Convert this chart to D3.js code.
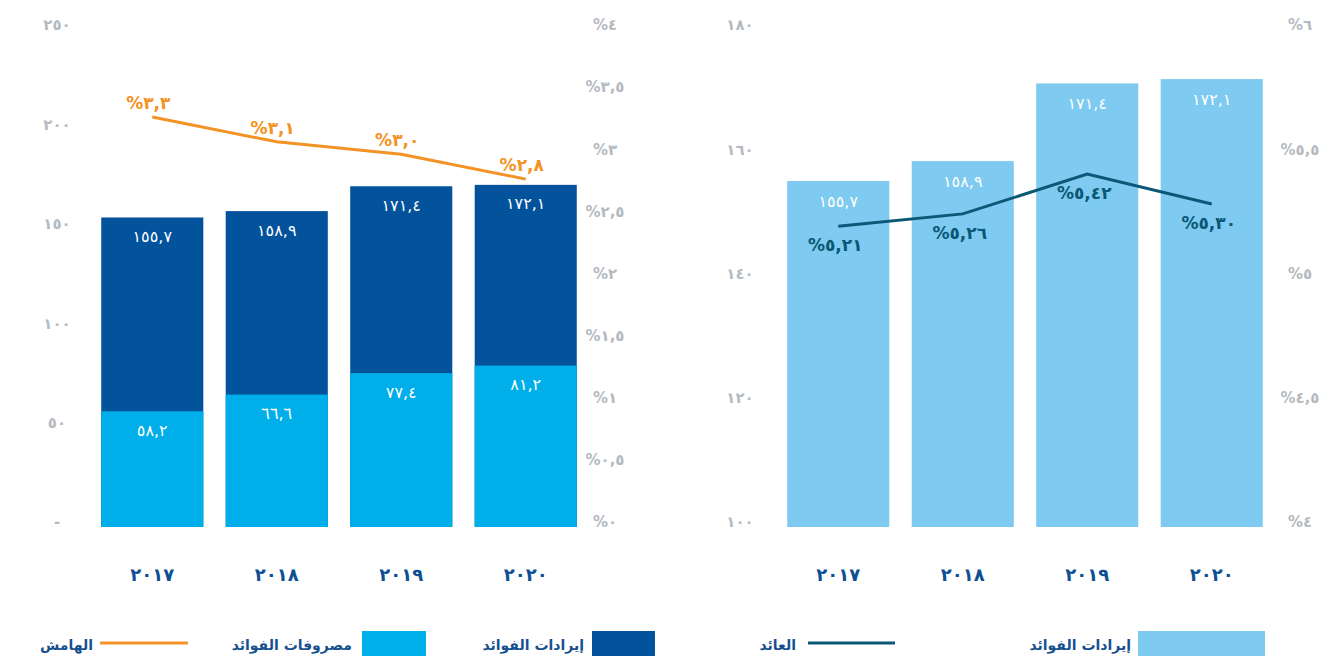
<!DOCTYPE html>
<html>
<head>
<meta charset="utf-8">
<script src="https://cdn.jsdelivr.net/npm/d3@7"></script>
<style>
  body { margin: 0; background: #ffffff; }
  svg text { font-family: "DejaVu Sans", sans-serif; }
</style>
</head>
<body>
<svg id="chart" width="1334" height="662"></svg>
<script>
// Years shown in both panels
const years = [2017, 2018, 2019, 2020];

// Left panel: interest income, interest expense (amounts) and margin (%)
const interestIncome = [155.7, 158.9, 171.4, 172.1];
const interestExpense = [58.2, 66.6, 77.4, 81.2];
const netMargin = [3.3, 3.1, 3.0, 2.8];

// Right panel: interest income (amounts) and yield (%)
const incomeRight = [155.7, 158.9, 171.4, 172.1];
const yieldRate = [5.21, 5.26, 5.42, 5.30];

// Axis ticks
const leftAmountTicks = [0, 50, 100, 150, 200, 250];
const leftPctTicks = [0, 0.5, 1, 1.5, 2, 2.5, 3, 3.5, 4];
const rightAmountTicks = [100, 120, 140, 160, 180];
const rightPctTicks = [4, 4.5, 5, 5.5, 6];

// Legend labels
const legendLeft = ["إيرادات الفوائد", "مصروفات الفوائد", "الهامش"];
const legendRight = ["إيرادات الفوائد", "العائد"];

const colors = {
  incomeDark: "#02529c",
  expense: "#00afe9",
  incomeLight: "#7ecaf0",
  margin: "#f39325",
  yield: "#0b5876",
  tick: "#b5bac1",
  year: "#0e4f94",
  legend: "#17508f"
};

const arabicDigits = "٠١٢٣٤٥٦٧٨٩";
function toArabic(str) {
  return String(str).replace(/\d/g, d => arabicDigits[+d]).replace(".", ",");
}
const fmtNum = (v, dec) => toArabic(v.toFixed(dec));
const fmtPct = (v, dec) => "%" + toArabic(dec === undefined ? String(v) : v.toFixed(dec));

const svg = d3.select("#chart");
const yTop = 30, yBottom = 527;

function drawAxis(g, scale, ticks, fmt, xPos) {
  const axis = d3.axisLeft(scale).tickValues(ticks).tickSize(0).tickPadding(0).tickFormat(fmt);
  const a = g.append("g").attr("transform", `translate(${xPos},-5)`).call(axis);
  a.select(".domain").remove();
  a.selectAll("text")
    .attr("text-anchor", "middle")
    .attr("x", 0)
    .attr("fill", colors.tick)
    .attr("font-size", 15)
    .attr("font-weight", "bold");
}

function drawYears(g, x) {
  const axis = d3.axisBottom(x).tickSize(0).tickPadding(0).tickFormat(d => toArabic(d));
  const a = g.append("g").attr("transform", "translate(0,575)").call(axis);
  a.select(".domain").remove();
  a.selectAll("text")
    .attr("dy", "0.35em")
    .attr("fill", colors.year)
    .attr("font-size", 18)
    .attr("font-weight", "bold");
}

// ---------- Left panel ----------
{
  const g = svg.append("g");
  const x = d3.scaleBand().domain(years).range([95, 583]).paddingInner(0.18).paddingOuter(0.05);
  const y = d3.scaleLinear().domain([0, 250]).range([yBottom, yTop]);
  const yPct = d3.scaleLinear().domain([0, 4]).range([yBottom, yTop]);

  drawAxis(g, y, leftAmountTicks, d => d === 0 ? "-" : toArabic(d), 57);
  drawAxis(g, yPct, leftPctTicks, d => fmtPct(d), 605);

  const bw = x.bandwidth();
  // income bars (dark), then expense bars drawn in front
  g.selectAll(".inc").data(years).join("rect")
    .attr("x", d => x(d)).attr("width", bw)
    .attr("y", (d, i) => y(interestIncome[i]))
    .attr("height", (d, i) => y(0) - y(interestIncome[i]))
    .attr("fill", colors.incomeDark);
  g.selectAll(".exp").data(years).join("rect")
    .attr("x", d => x(d)).attr("width", bw)
    .attr("y", (d, i) => y(interestExpense[i]))
    .attr("height", (d, i) => y(0) - y(interestExpense[i]))
    .attr("fill", colors.expense);

  g.selectAll(".incLbl").data(years).join("text")
    .attr("x", d => x(d) + bw / 2)
    .attr("y", (d, i) => y(interestIncome[i]) + 19)
    .attr("dy", "0.35em").attr("text-anchor", "middle")
    .attr("fill", "#ffffff").attr("font-size", 16)
    .text((d, i) => fmtNum(interestIncome[i], 1));
  g.selectAll(".expLbl").data(years).join("text")
    .attr("x", d => x(d) + bw / 2)
    .attr("y", (d, i) => y(interestExpense[i]) + 19)
    .attr("dy", "0.35em").attr("text-anchor", "middle")
    .attr("fill", "#ffffff").attr("font-size", 16)
    .text((d, i) => fmtNum(interestExpense[i], 1));

  const line = d3.line().x((d, i) => x(years[i]) + bw / 2).y(d => yPct(d));
  g.append("path").datum(netMargin)
    .attr("d", line).attr("fill", "none")
    .attr("stroke", colors.margin).attr("stroke-width", 3);
  g.selectAll(".mLbl").data(netMargin).join("text")
    .attr("x", (d, i) => x(years[i]) + bw / 2 - 4)
    .attr("y", d => yPct(d) - 14)
    .attr("dy", "0.35em").attr("text-anchor", "middle")
    .attr("fill", colors.margin).attr("font-size", 17).attr("font-weight", "bold")
    .text(d => fmtPct(d, 1));

  drawYears(g, x);

  // legend
  const lg = g.append("g");
  lg.append("rect").attr("x", 592).attr("y", 631).attr("width", 63).attr("height", 25).attr("fill", colors.incomeDark);
  lg.append("text").attr("x", 584).attr("y", 645).attr("dy", "0.35em").attr("text-anchor", "end")
    .attr("fill", colors.legend).attr("font-size", 14).attr("font-weight", "bold").text(legendLeft[0]);
  lg.append("rect").attr("x", 362).attr("y", 631).attr("width", 64).attr("height", 25).attr("fill", colors.expense);
  lg.append("text").attr("x", 352).attr("y", 645).attr("dy", "0.35em").attr("text-anchor", "end")
    .attr("fill", colors.legend).attr("font-size", 14).attr("font-weight", "bold").text(legendLeft[1]);
  lg.append("line").attr("x1", 100).attr("x2", 188).attr("y1", 643).attr("y2", 643)
    .attr("stroke", colors.margin).attr("stroke-width", 3);
  lg.append("text").attr("x", 93).attr("y", 645).attr("dy", "0.35em").attr("text-anchor", "end")
    .attr("fill", colors.legend).attr("font-size", 14).attr("font-weight", "bold").text(legendLeft[2]);
}

// ---------- Right panel ----------
{
  const g = svg.append("g");
  const x = d3.scaleBand().domain(years).range([781, 1269]).paddingInner(0.18).paddingOuter(0.05);
  const y = d3.scaleLinear().domain([100, 180]).range([yBottom, yTop]);
  const yPct = d3.scaleLinear().domain([4, 6]).range([yBottom, yTop]);

  drawAxis(g, y, rightAmountTicks, d => toArabic(d), 740);
  drawAxis(g, yPct, rightPctTicks, d => fmtPct(d), 1300);

  const bw = x.bandwidth();
  g.selectAll(".bar").data(years).join("rect")
    .attr("x", d => x(d)).attr("width", bw)
    .attr("y", (d, i) => y(incomeRight[i]))
    .attr("height", (d, i) => y(100) - y(incomeRight[i]))
    .attr("fill", colors.incomeLight);
  g.selectAll(".barLbl").data(years).join("text")
    .attr("x", d => x(d) + bw / 2)
    .attr("y", (d, i) => y(incomeRight[i]) + 20)
    .attr("dy", "0.35em").attr("text-anchor", "middle")
    .attr("fill", "#ffffff").attr("font-size", 16)
    .text((d, i) => fmtNum(incomeRight[i], 1));

  const line = d3.line().x((d, i) => x(years[i]) + bw / 2).y(d => yPct(d));
  g.append("path").datum(yieldRate)
    .attr("d", line).attr("fill", "none")
    .attr("stroke", colors.yield).attr("stroke-width", 3);
  // yield labels sit just under the line so they stay clear of the bar labels
  g.selectAll(".yLbl").data(yieldRate).join("text")
    .attr("x", (d, i) => x(years[i]) + bw / 2 - 3)
    .attr("y", d => yPct(d) + 19)
    .attr("dy", "0.35em").attr("text-anchor", "middle")
    .attr("fill", colors.yield).attr("font-size", 17).attr("font-weight", "bold")
    .text(d => fmtPct(d, 2));

  drawYears(g, x);

  const lg = g.append("g");
  lg.append("rect").attr("x", 1138).attr("y", 631).attr("width", 127).attr("height", 25).attr("fill", colors.incomeLight);
  lg.append("text").attr("x", 1131).attr("y", 645).attr("dy", "0.35em").attr("text-anchor", "end")
    .attr("fill", colors.legend).attr("font-size", 14).attr("font-weight", "bold").text(legendRight[0]);
  lg.append("line").attr("x1", 808).attr("x2", 895).attr("y1", 643).attr("y2", 643)
    .attr("stroke", colors.yield).attr("stroke-width", 3);
  lg.append("text").attr("x", 796).attr("y", 645).attr("dy", "0.35em").attr("text-anchor", "end")
    .attr("fill", colors.legend).attr("font-size", 14).attr("font-weight", "bold").text(legendRight[1]);
}
</script>
</body>
</html>
